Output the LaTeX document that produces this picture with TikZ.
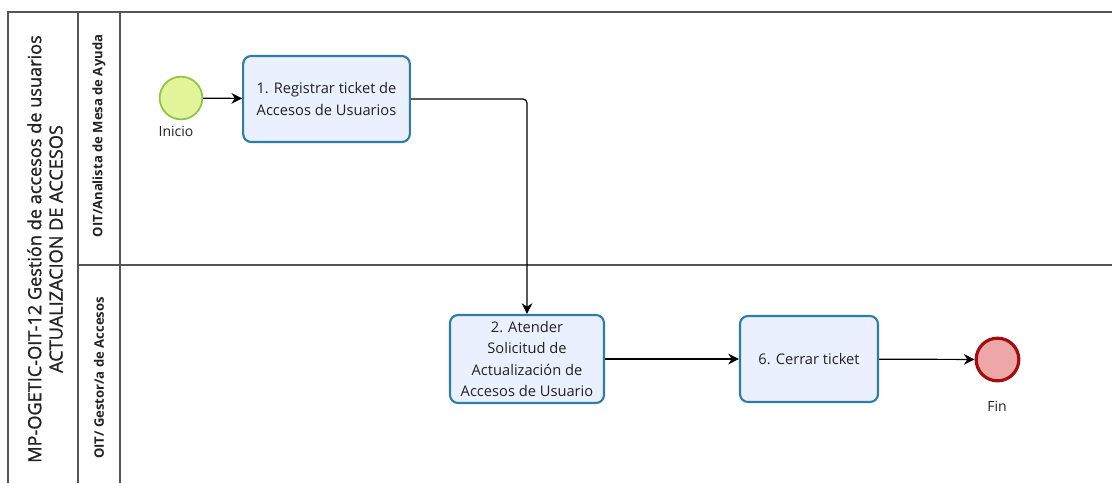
\documentclass[tikz,border=0pt]{standalone}
\usepackage{fontspec}
\setmainfont{Open Sans}
\usetikzlibrary{arrows.meta,shapes.geometric}
\definecolor{boxfill}{HTML}{EAF0FD}
\definecolor{boxdraw}{HTML}{2E7DA6}
\definecolor{startfill}{HTML}{E4F49A}
\definecolor{startdraw}{HTML}{8DC63F}
\definecolor{endfill}{HTML}{EEA7A9}
\definecolor{enddraw}{HTML}{A30D0D}
\definecolor{frame}{HTML}{555555}
\definecolor{txt}{HTML}{222222}
\tikzset{
  task/.style={draw=boxdraw, fill=boxfill, line width=1.6pt, rounded corners=6pt,
    align=center, font=\fontsize{11}{16}\selectfont, text=txt, inner sep=2pt},
  startev/.style={circle, draw=startdraw, fill=startfill, line width=1.3pt,
    minimum size=32pt, inner sep=0pt},
  endev/.style={circle, draw=enddraw, fill=endfill, line width=2.4pt,
    minimum size=32pt, inner sep=0pt},
  flow/.style={draw=black, line width=0.9pt, -{Stealth[length=8pt,width=8pt,inset=2.5pt]}},
  lanebar/.style={draw=frame, line width=0.8pt},
  lanelbl/.style={rotate=90, font=\fontsize{9.8}{12}\selectfont\bfseries, text=txt},
  evlbl/.style={font=\fontsize{10.5}{12}\selectfont, text=txt}
}
\begin{document}
\begin{tikzpicture}[x=0.75pt,y=-0.75pt]
\useasboundingbox (0,0) rectangle (1112,483);
% frame
\draw[lanebar] (1112,12) -- (8,12) -- (8,483);
\draw[lanebar] (78,12) -- (78,483);
\draw[lanebar] (120,12) -- (120,483);
\draw[lanebar] (78,265) -- (1112,265);
% labels
\node[rotate=90, align=center, font=\fontsize{13.6}{16}\selectfont\addfontfeature{FakeBold=1.2}, text=txt] (pool) at (45,249)
  {MP-OGETIC-OIT-12 Gestión de accesos de usuarios\\ACTUALIZACION DE ACCESOS};
\node[lanelbl] (lane1) at (99,136) {OIT/Analista de Mesa de Ayuda};
\node[lanelbl] (lane2) at (99,378) {OIT/ Gestor/a de Accesos};
% events and tasks
\node[startev] (start) at (181,98) {};
\node[evlbl] (startl) at (176,131) {Inicio};
\node[task, minimum width=125pt, minimum height=64.5pt] (t1) at (326.5,99)
  {1. Registrar ticket de\\Accesos de Usuarios};
\node[task, minimum width=115.5pt, minimum height=66pt] (t2) at (527,359)
  {2. Atender\\Solicitud de\\Actualización de\\Accesos de Usuario};
\node[task, minimum width=103.5pt, minimum height=64.5pt] (t3) at (809,359)
  {6. Cerrar ticket};
\node[endev] (end) at (997.5,359.5) {};
\node[evlbl] (endl) at (997,406) {Fin};
% flows
\draw[flow] (start) -- (t1);
\draw[flow, rounded corners=3pt] (t1.east) -| (t2.north);
\draw[flow] (t2) -- (t3);
\draw[flow] (t3) -- (end);
\end{tikzpicture}
\end{document}
